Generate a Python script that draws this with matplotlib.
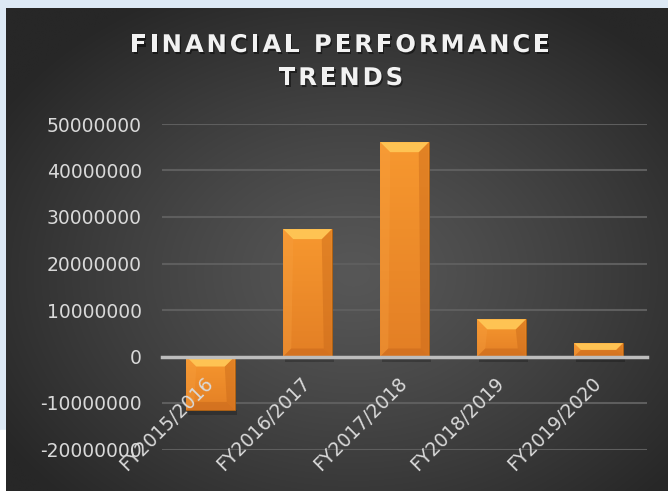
import matplotlib.pyplot as plt
import matplotlib.patheffects as pe
import numpy as np
from matplotlib.colors import LinearSegmentedColormap
from matplotlib.patches import Polygon, Rectangle
from matplotlib.transforms import IdentityTransform

# data
years = ['FY2015/2016', 'FY2016/2017', 'FY2017/2018', 'FY2018/2019', 'FY2019/2020']
values = [-11500000, 27400000, 46100000, 8000000, 2850000]
y_ticks = [-20000000, -10000000, 0, 10000000, 20000000, 30000000, 40000000, 50000000]

W, H = 668, 491
fig = plt.figure(figsize=(W / 100, H / 100), dpi=100)

# page background + dark panel with radial gradient
bg = fig.add_axes([0, 0, 1, 1], zorder=0)
bg.set_xlim(0, W)
bg.set_ylim(H, 0)
bg.axis('off')
bg.add_patch(Rectangle((0, 0), W, H, color='#dde9f5'))
bg.add_patch(Rectangle((0, 430), 8, H - 430, color='white'))
yy, xx = np.mgrid[0:H, 0:W]
d = np.sqrt(((xx - 350) / 420) ** 2 + ((yy - 270) / 320) ** 2)
shade = (0x57 - (0x57 - 0x27) * np.clip(d, 0, 1) ** 1.2) / 255
img = np.dstack([shade, shade, shade])
bg.imshow(img, extent=(6, W, H, 8), aspect='auto', zorder=1)

# title with letter spacing
def tracked_text(fig, s, xc, y_px, size, track):
    r = fig.canvas.get_renderer()
    t = fig.text(0, 0, s, fontsize=size, fontweight='bold', family='DejaVu Sans')
    prop = t.get_fontproperties()
    t.remove()
    widths = [r.get_text_width_height_descent(s[:k], prop, ismath=False)[0] for k in range(len(s) + 1)]
    total = widths[-1] + track * (len(s) - 1)
    x0 = xc - total / 2
    for k, ch in enumerate(s):
        if ch == ' ':
            continue
        fig.text((x0 + widths[k] + track * k) / W, 1 - y_px / H, ch, fontsize=size,
                 fontweight='bold', family='DejaVu Sans', color='#f2f2f2', va='baseline',
                 ha='left', zorder=5,
                 path_effects=[pe.SimplePatchShadow(offset=(1, -1.5), shadow_rgbFace='black', alpha=0.45),
                               pe.Normal()])

tracked_text(fig, 'FINANCIAL PERFORMANCE', 340, 52, 17.5, 2.9)
tracked_text(fig, 'TRENDS', 341, 85, 17.5, 2.9)

# main axes
ax = fig.add_axes([162 / W, 1 - 449.5 / H, (647 - 162) / W, (449.5 - 124) / H], zorder=2)
ax.patch.set_alpha(0)
xlim = (-0.5, len(years) - 0.5)
ylim = (-20000000, 50000000)
ax.set_yticks(y_ticks)
ax.set_yticklabels([str(v) for v in y_ticks])
ax.grid(axis='y', color='#5e5e5e', linewidth=1.5, zorder=0)
ax.set_axisbelow(True)
for s in ['top', 'left', 'right']:
    ax.spines[s].set_visible(False)
ax.spines['bottom'].set_position(('data', 0))
ax.spines['bottom'].set_color('#bdbdbd')
ax.spines['bottom'].set_linewidth(2.5)
ax.spines['bottom'].set_zorder(4)
ax.tick_params(axis='both', length=0, colors='#d9d9d9', labelsize=13.5)
ax.tick_params(axis='y', pad=14.4)
ax.tick_params(axis='x', pad=17)
ax.set_xticks(range(len(years)))
ax.set_xticklabels(years, rotation=45, ha='right', va='center', rotation_mode='anchor')
ax.xaxis.set_zorder(6)

bars = ax.bar(range(len(years)), values, width=0.5, color='#f08d2c', edgecolor='#b0600f',
              linewidth=0.6, zorder=3)
ax.set_xlim(*xlim)
ax.set_ylim(*ylim)

face = LinearSegmentedColormap.from_list('face', ['#e37f25', '#f7982f'])
grad = np.linspace(0, 1, 64).reshape(-1, 1)

# bevel effect drawn in pixel space from each bar's extent
def bevel(ax, rect, dt=10, db=8):
    x0 = rect.get_x()
    x1 = x0 + rect.get_width()
    y0 = min(rect.get_y(), rect.get_y() + rect.get_height())
    y1 = max(rect.get_y(), rect.get_y() + rect.get_height())
    im = ax.imshow(grad, cmap=face, extent=(x0, x1, y0, y1), origin='lower',
                   aspect='auto', zorder=3.1, interpolation='bilinear')
    im.set_clip_path(rect)
    (px0, py0), (px1, py1) = ax.transData.transform([(x0, y0), (x1, y1)])
    hgt = py1 - py0
    dt_ = min(dt, hgt / 2)
    db_ = min(db, hgt / 2)
    tr = IdentityTransform()
    shadow = Rectangle((px0 + 2, py0 - 5), px1 - px0, 5, color='black', alpha=0.22,
                       transform=tr, zorder=2.5, linewidth=0)
    ax.add_patch(shadow)
    top = [(px0, py1), (px1, py1), (px1 - dt_, py1 - dt_), (px0 + dt_, py1 - dt_)]
    bot = [(px0, py0), (px1, py0), (px1 - db_, py0 + db_), (px0 + db_, py0 + db_)]
    left = [(px0, py0), (px0, py1), (px0 + dt_, py1 - dt_), (px0 + db_, py0 + db_)]
    right = [(px1, py0), (px1, py1), (px1 - dt_, py1 - dt_), (px1 - db_, py0 + db_)]
    for poly, c, a in [(left, '#f7a040', 0.35), (right, '#c9691a', 0.45),
                       (bot, '#c2631a', 0.45), (top, '#ffc656', 0.95)]:
        ax.add_patch(Polygon(poly, closed=True, facecolor=c, edgecolor='none', alpha=a,
                             transform=tr, zorder=3.2))

for b in bars:
    bevel(ax, b)
ax.set_xlim(*xlim)
ax.set_ylim(*ylim)

fig.savefig('out.png', dpi=100)
